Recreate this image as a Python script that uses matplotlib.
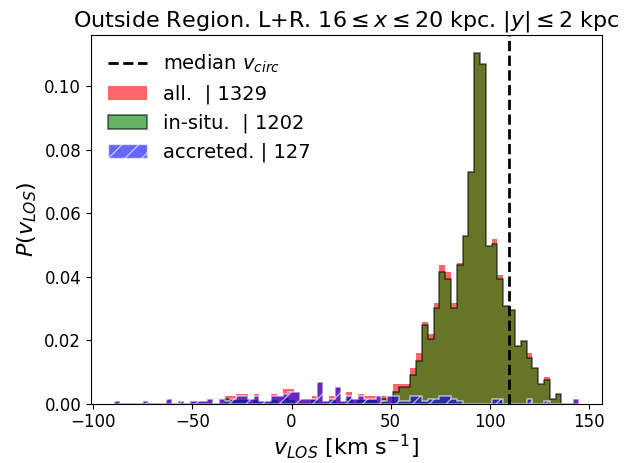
import matplotlib
matplotlib.use('Agg')
import matplotlib.pyplot as plt
import numpy as np
from matplotlib.patches import Patch
from matplotlib.lines import Line2D

# histogram bins (80 bins over the data range, km/s)
edges = np.linspace(-89.5, 145.0, 81)

# particle counts per bin
insitu_counts = [0, 0, 0, 0, 0, 0, 0, 0, 0, 0,
                 0, 0, 0, 0, 0, 0, 0, 0, 0, 2,
                 1, 1, 1, 0, 1, 0, 0, 1, 0, 2,
                 1, 0, 0, 0, 1, 0, 0, 1, 0, 0,
                 2, 0, 1, 1, 1, 0, 2, 0, 5, 7,
                 7, 12, 18, 33, 27, 40, 55, 52, 40, 58,
                 70, 97, 147, 142, 66, 67, 52, 41, 39, 24,
                 26, 19, 15, 8, 10, 2, 4, 0, 0, 0]
accreted_counts = [1, 0, 0, 0, 0, 1, 0, 0, 0, 2,
                   0, 1, 0, 1, 1, 1, 2, 0, 2, 1,
                   2, 3, 3, 2, 3, 1, 1, 3, 3, 4,
                   5, 5, 2, 2, 2, 9, 1, 2, 7, 1,
                   3, 2, 3, 2, 2, 3, 1, 3, 3, 1,
                   1, 3, 3, 1, 2, 2, 3, 3, 2, 1,
                   0, 0, 0, 0, 0, 2, 2, 0, 0, 0,
                   0, 2, 0, 0, 1, 0, 0, 0, 0, 2]

n_all, n_insitu, n_acc = 1329, 1202, 127
median_vcirc = 110.0

insitu = np.array(insitu_counts, dtype=float)
acc = np.array(accreted_counts, dtype=float)
allc = insitu + acc
centers = 0.5 * (edges[:-1] + edges[1:])

fig = plt.figure(figsize=(6.42, 4.63), dpi=100)
ax = fig.add_axes([0.1417, 0.1285, 0.7960, 0.7959])

ax.hist(centers, bins=edges, weights=allc / n_all, histtype='stepfilled',
        color='r', alpha=0.6)
ax.hist(centers, bins=edges, weights=insitu / n_all, histtype='stepfilled',
        facecolor='g', edgecolor='k', linewidth=1.1, alpha=0.6)
ax.hist(centers, bins=edges, weights=acc / n_all, histtype='stepfilled',
        facecolor='b', edgecolor='w', hatch='//', linewidth=1.1, alpha=0.6)
ax.axvline(median_vcirc, color='k', ls='--', lw=2)

handles = [
    Line2D([], [], color='k', ls='--', lw=2),
    Patch(facecolor='r', alpha=0.6),
    Patch(facecolor='g', edgecolor='k', linewidth=1.1, alpha=0.6),
    Patch(facecolor='b', edgecolor='w', hatch='//', alpha=0.6),
]
labels = [r'median $v_{circ}$', f'all.  | {n_all}', f'in-situ.  | {n_insitu}',
          f'accreted. | {n_acc}']
ax.legend(handles, labels, loc='upper left', frameon=False, fontsize=14)

ax.set_title(r'Outside Region. L+R. $16 \leq x \leq 20$ kpc. $|y| \leq 2$ kpc',
             fontsize=16)
ax.set_xlabel(r'$v_{LOS}$ [km s$^{-1}$]', fontsize=16, labelpad=1)
ax.set_ylabel(r'$P(v_{LOS})$', fontsize=16)
ax.tick_params(labelsize=12)

fig.savefig('out.png', dpi=100)
